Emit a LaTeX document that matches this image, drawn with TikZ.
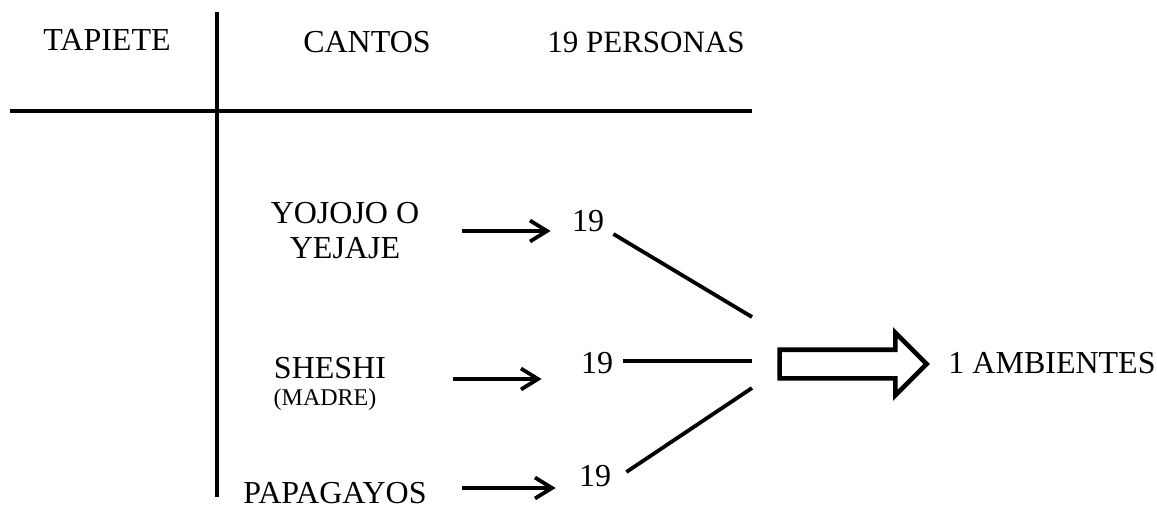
\documentclass[tikz,border=0pt]{standalone}
\usepackage{fontspec}
\setmainfont{Liberation Serif}
\usetikzlibrary{arrows.meta, shapes.arrows, calc}

\begin{document}
\begin{tikzpicture}[x=0.5pt, y=-0.5pt,
  lbl/.style={inner sep=0pt, font=\fontsize{16}{17.5}\selectfont, align=center},
  num/.style={inner sep=0pt, font=\fontsize{16}{17.5}\selectfont},
  rule/.style={line width=1.9pt},
  tr/.style={line width=1.9pt, -{Straight Barb[length=8.5pt, width=10.5pt]}},
  link/.style={line width=1.9pt},
  bigarrow/.style={draw, single arrow, line width=2.3pt, inner sep=6pt,
                   minimum height=73.5pt, single arrow head extend=8.5pt}
]
  \useasboundingbox (0,0) rectangle (1157,510);

  % Table frame
  \draw[rule] (217,12) -- (217,497);
  \draw[rule] (10,111) -- (752,111);

  % Header
  \node[lbl] (tapiete)  at (107,40) {TAPIETE};
  \node[lbl] (cantos)   at (367,42) {CANTOS};
  \node[lbl, font=\fontsize{15.5}{17.5}\selectfont] (personas) at (646,42) {19 PERSONAS};

  % Songs
  \node[lbl] (yojojo)    at (345,231) {YOJOJO O\\YEJAJE};
  \node[lbl] (sheshi)    at (330,368) {SHESHI};
  \node[inner sep=0pt, font=\fontsize{12}{13}\selectfont] (madre) at (325,400) {(MADRE)};
  \node[lbl] (papagayos) at (335,493) {PAPAGAYOS};

  % Counts
  \node[num] (n1) at (588,221) {19};
  \node[num] (n2) at (597,363) {19};
  \node[num] (n3) at (595,476) {19};

  % Junction points in front of the big arrow
  \coordinate (j1) at (752,317);
  \coordinate (j2) at (752,361);
  \coordinate (j3) at (752,388);

  % Song -> count
  \draw[tr] ([xshift=21pt]yojojo.east) -- ($(yojojo.east -| n1.west)+(-21,0)$);
  \draw[tr] ([xshift=33.5pt,yshift=-5.5pt]sheshi.east) -- ($([yshift=-5.5pt]sheshi.east -| n2.west)+(-39,0)$);
  \draw[tr] ([xshift=17.5pt,yshift=2.5pt]papagayos.east) -- ($([yshift=2.5pt]papagayos.east -| n3.west)+(-23,0)$);

  % Count -> junction
  \draw[link] ([shift={(9,13)}]n1.east) -- (j1);
  \draw[link] ([shift={(10,-2)}]n2.east) -- (j2);
  \draw[link] ([shift={(15,-4)}]n3.east) -- (j3);

  % Result
  \node[bigarrow] (result) at (846,364) {};
  \node[lbl] (ambientes) at (1052,363) {1 AMBIENTES};
\end{tikzpicture}
\end{document}
